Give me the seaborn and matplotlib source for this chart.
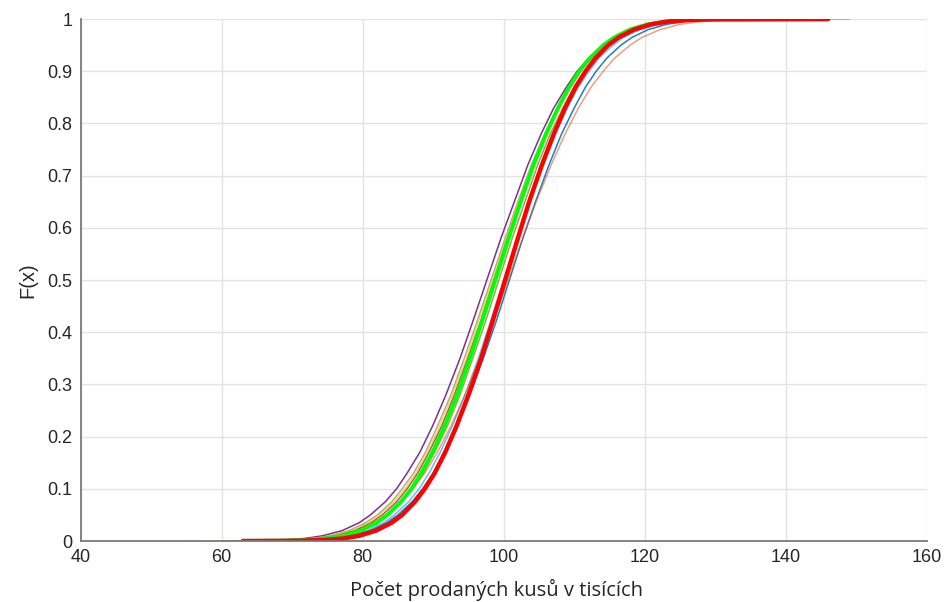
import matplotlib
matplotlib.use("Agg")
import matplotlib.pyplot as plt
import seaborn as sns
import pandas as pd

# Cumulative probability levels shared by every curve
F_levels = [0, 0.0005, 0.002, 0.005, 0.01, 0.02, 0.035, 0.05, 0.075, 0.1, 0.13, 0.17,
            0.22, 0.28, 0.35, 0.42, 0.5, 0.58, 0.65, 0.72, 0.78, 0.83, 0.87, 0.9,
            0.925, 0.95, 0.965, 0.98, 0.99, 0.995, 0.998, 0.9995, 1]

# Sales (thousands of units) reached at each probability level, one list per sample
purple = [62.0, 64.7, 68.8, 71.8, 74.3, 77.1, 79.5, 81.1, 83.2, 84.8, 86.3, 88.1, 89.9,
          91.8, 93.8, 95.6, 97.6, 99.6, 101.5, 103.4, 105.3, 107.1, 108.9, 110.4,
          112.0, 114.1, 115.7, 118.1, 120.9, 123.4, 126.4, 130.5, 136.0]
olive = [61.0, 66.0, 70.0, 73.0, 75.4, 78.1, 80.4, 82.1, 84.1, 85.6, 87.2, 88.9, 90.6,
         92.5, 94.4, 96.2, 98.2, 100.2, 102.0, 103.9, 105.8, 107.6, 109.2, 110.8,
         112.3, 114.3, 116.0, 118.3, 121.0, 123.4, 126.4, 130.5, 138.0]
brown = [62.0, 67.0, 71.0, 73.9, 76.3, 78.9, 81.2, 82.8, 84.8, 86.3, 87.8, 89.4, 91.2,
         93.0, 94.9, 96.7, 98.6, 100.5, 102.3, 104.2, 106.0, 107.8, 109.4, 110.9,
         112.4, 114.4, 116.0, 118.3, 120.9, 123.3, 126.2, 130.2, 137.0]
yellow = [55.0, 66.5, 70.5, 73.4, 75.8, 78.5, 80.8, 82.4, 84.4, 86.0, 87.5, 89.2, 90.9,
          92.7, 94.7, 96.4, 98.4, 100.4, 102.1, 104.1, 105.9, 107.7, 109.3, 110.8,
          112.4, 114.4, 116.0, 118.3, 121.0, 123.4, 126.3, 130.3, 140.0]
darkgreen = [63.0, 68.0, 72.0, 74.8, 77.2, 79.8, 82.1, 83.7, 85.6, 87.1, 88.6, 90.2, 92.0,
             93.8, 95.6, 97.4, 99.3, 101.2, 103.0, 104.8, 106.6, 108.4, 110.0, 111.5,
             113.0, 114.9, 116.5, 118.8, 121.4, 123.8, 126.6, 130.6, 139.0]
lightblue = [64.0, 69.1, 73.0, 75.8, 78.1, 80.7, 83.0, 84.5, 86.5, 88.0, 89.4, 91.0, 92.7,
             94.5, 96.4, 98.1, 100.0, 101.9, 103.6, 105.5, 107.3, 109.0, 110.6, 112.1,
             113.5, 115.5, 117.0, 119.3, 121.9, 124.2, 127.1, 130.9, 141.0]
blue = [63.0, 69.2, 73.2, 76.1, 78.5, 81.1, 83.4, 85.0, 87.0, 88.5, 90.0, 91.6, 93.4,
        95.2, 97.1, 98.9, 100.8, 102.7, 104.5, 106.4, 108.2, 110.0, 111.6, 113.1,
        114.6, 116.6, 118.2, 120.5, 123.1, 125.5, 128.4, 132.4, 143.0]
orange = [60.0, 66.0, 70.4, 73.6, 76.2, 79.0, 81.6, 83.3, 85.5, 87.1, 88.8, 90.6, 92.5,
          94.5, 96.6, 98.5, 100.6, 102.7, 104.6, 106.7, 108.7, 110.6, 112.4, 114.1,
          115.7, 117.9, 119.6, 122.2, 125.0, 127.7, 130.8, 135.2, 149.0]
lime = [63.0, 68.2, 72.0, 74.8, 77.2, 79.7, 82.0, 83.5, 85.4, 86.9, 88.3, 89.9, 91.6,
        93.4, 95.2, 96.9, 98.8, 100.7, 102.4, 104.2, 106.0, 107.7, 109.3, 110.7,
        112.2, 114.1, 115.7, 117.9, 120.4, 122.8, 125.6, 129.4, 140.0]
red = [63.0, 70.9, 74.6, 77.3, 79.5, 81.9, 84.1, 85.6, 87.4, 88.8, 90.2, 91.7, 93.3,
       95.0, 96.8, 98.4, 100.2, 102.0, 103.6, 105.4, 107.1, 108.7, 110.2, 111.6,
       113.0, 114.8, 116.3, 118.5, 120.9, 123.1, 125.8, 129.5, 146.0]

series = {
    "purple": purple, "olive": olive, "brown": brown, "yellow": yellow,
    "darkgreen": darkgreen, "lightblue": lightblue, "blue": blue,
    "orange": orange, "lime": lime, "red": red,
}

# colour, line width, opacity
styles = {
    "purple": ("#7E2F8E", 1.1, 1.0),
    "olive": ("#B5AE86", 1.1, 1.0),
    "brown": ("#A0522D", 1.1, 0.9),
    "yellow": ("#EDB120", 1.1, 0.6),
    "darkgreen": ("#77AC30", 1.1, 0.9),
    "lightblue": ("#4DBEEE", 1.1, 0.9),
    "blue": ("#0072BD", 1.1, 0.9),
    "orange": ("#D95319", 1.1, 0.55),
    "lime": ("#00FF00", 2.8, 1.0),
    "red": ("#FF0000", 3.2, 1.0),
}

rows = []
for name, xs in series.items():
    for x, f in zip(xs, F_levels):
        rows.append({"sample": name, "x": x, "F": f})
df = pd.DataFrame(rows)

sns.set_style("white")
plt.rcParams["font.family"] = ["Liberation Sans", "DejaVu Sans"]

fig = plt.figure(figsize=(9.51, 6.02), dpi=100)
ax = fig.add_axes([0.0847, 0.1013, 0.8900, 0.8670])

for name in series:
    color, lw, alpha = styles[name]
    sns.lineplot(data=df[df["sample"] == name], x="x", y="F", sort=False,
                 estimator=None, color=color, linewidth=lw, alpha=alpha, ax=ax)

ax.set_xlim(40, 160)
ax.set_ylim(0, 1)
ax.set_xticks([40, 60, 80, 100, 120, 140, 160])
ax.set_yticks([0, 0.1, 0.2, 0.3, 0.4, 0.5, 0.6, 0.7, 0.8, 0.9, 1])
ax.set_yticklabels(["0", "0.1", "0.2", "0.3", "0.4", "0.5", "0.6", "0.7", "0.8", "0.9", "1"])

ax.grid(True, color="#e3e3e3", linewidth=1.0)
ax.set_axisbelow(True)
for side in ("top", "right"):
    ax.spines[side].set_visible(False)
for side in ("left", "bottom"):
    ax.spines[side].set_color("#7a7a7a")
    ax.spines[side].set_linewidth(1.3)

ax.tick_params(axis="both", direction="in", length=5, width=1.0, color="#404040",
               labelsize=13, labelcolor="#262626", pad=6)

ax.set_ylabel("F(x)", fontsize=14.5, color="#262626")
ax.yaxis.set_label_coords(-0.051, 0.5)
ax.set_xlabel("Počet prodaných kusů v tisících", fontsize=14.5, color="#262626",
              family=["Open Sans", "DejaVu Sans"])
ax.xaxis.set_label_coords(0.492, -0.072)

fig.savefig("out.png", dpi=100)
